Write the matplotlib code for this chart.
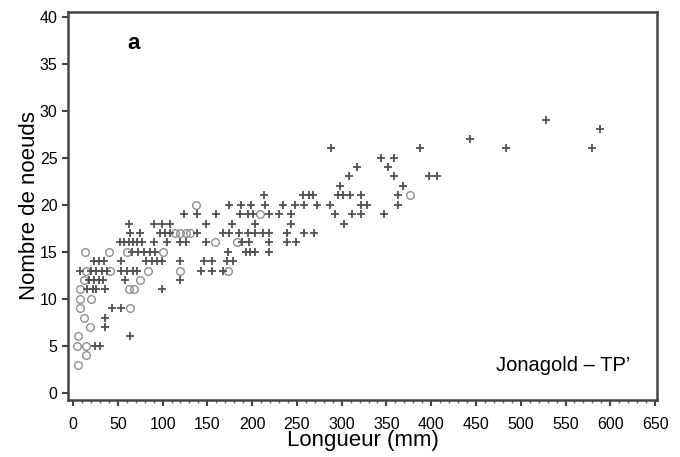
import matplotlib
matplotlib.use('Agg')
import matplotlib.pyplot as plt
from matplotlib.ticker import MultipleLocator

plt.rcParams['font.family'] = ['Liberation Sans', 'DejaVu Sans']

# Points marques '+' (longueur en mm, nombre de noeuds)
long_plus = [25, 30, 64, 36, 36, 43, 54,
             16, 22, 26, 36, 99,
             18, 23, 29, 34, 58, 120,
             8, 20, 26, 32, 38, 54, 60, 67, 71, 143, 155, 168,
             23, 29, 35, 54, 82, 88, 94, 99, 120, 146, 155, 172, 179,
             66, 73, 79, 86, 92, 173, 193, 198, 203, 219,
             52, 57, 62, 67, 72, 77, 90, 105, 120, 126, 149, 189, 196, 219, 239, 249,
             64, 75, 97, 103, 108, 139, 168, 174, 185, 195, 203, 212, 219, 239, 258, 269,
             63, 90, 99, 108, 149, 178, 203, 243, 303,
             124, 138, 160, 187, 195, 201, 219, 230, 243, 293, 311, 322, 347,
             174, 188, 199, 214, 234, 248, 258, 272, 287, 322, 328, 363,
             213, 257, 263, 268, 296, 302, 309, 322, 363,
             298, 368,
             308, 358, 397, 406,
             317, 352,
             344, 359,
             288, 388, 484, 580,
             443, 589, 528]
noeuds_plus = [5, 5, 6, 7, 8, 9, 9,
               11, 11, 11, 11, 11,
               12, 12, 12, 12, 12, 12,
               13, 13, 13, 13, 13, 13, 13, 13, 13, 13, 13, 13,
               14, 14, 14, 14, 14, 14, 14, 14, 14, 14, 14, 14, 14,
               15, 15, 15, 15, 15, 15, 15, 15, 15, 15,
               16, 16, 16, 16, 16, 16, 16, 16, 16, 16, 16, 16, 16, 16, 16, 16,
               17, 17, 17, 17, 17, 17, 17, 17, 17, 17, 17, 17, 17, 17, 17, 17,
               18, 18, 18, 18, 18, 18, 18, 18, 18,
               19, 19, 19, 19, 19, 19, 19, 19, 19, 19, 19, 19, 19,
               20, 20, 20, 20, 20, 20, 20, 20, 20, 20, 20, 20,
               21, 21, 21, 21, 21, 21, 21, 21, 21,
               22, 22,
               23, 23, 23, 23,
               24, 24,
               25, 25,
               26, 26, 26, 26,
               27, 28, 29]

# Points marques 'o'
long_cercle = [6, 15, 4, 15, 6, 19, 12, 8, 64, 8, 20, 8, 62, 68,
               12, 75, 14, 41, 84, 120, 173, 13, 40, 60, 100,
               159, 183, 114, 120, 126, 131, 209, 137, 376]
noeuds_cercle = [3, 4, 5, 5, 6, 7, 8, 9, 9, 10, 10, 11, 11, 11,
                 12, 12, 13, 13, 13, 13, 13, 15, 15, 15, 15,
                 16, 16, 17, 17, 17, 17, 19, 20, 21]

fig = plt.figure(figsize=(6.8, 4.57), dpi=100)
ax = fig.add_axes([0.1, 0.125, 0.866, 0.849])

ax.plot(long_cercle, noeuds_cercle, 'o', ms=5.5, mfc='none', mec='#8f8f8f', mew=1.0)
ax.plot(long_plus, noeuds_plus, '+', ms=5.5, color='#505050', mew=1.3)

ax.set_xlim(-5.6, 652)
ax.set_ylim(-0.75, 40.5)
ax.xaxis.set_major_locator(MultipleLocator(50))
ax.xaxis.set_minor_locator(MultipleLocator(10))
ax.yaxis.set_major_locator(MultipleLocator(5))
ax.tick_params(axis='both', which='major', labelsize=11.5, length=4, width=1.5,
               color='#444444', direction='out')
ax.tick_params(axis='x', which='major', pad=8)
ax.tick_params(axis='x', which='minor', length=2, width=1, color='#666666')
for s in ax.spines.values():
    s.set_linewidth(1.8)
    s.set_color('#444444')

ax.set_xlabel('Longueur (mm)', fontsize=16, labelpad=-1)
ax.set_ylabel('Nombre de noeuds', fontsize=16, labelpad=0)

ax.text(0.1, 0.905, 'a', transform=ax.transAxes, fontsize=16, fontweight='bold')
ax.text(0.955, 0.065, "Jonagold \u2013 TP\u2019", transform=ax.transAxes,
        fontsize=14.5, ha='right', va='bottom')

fig.savefig('out.png', dpi=100)
